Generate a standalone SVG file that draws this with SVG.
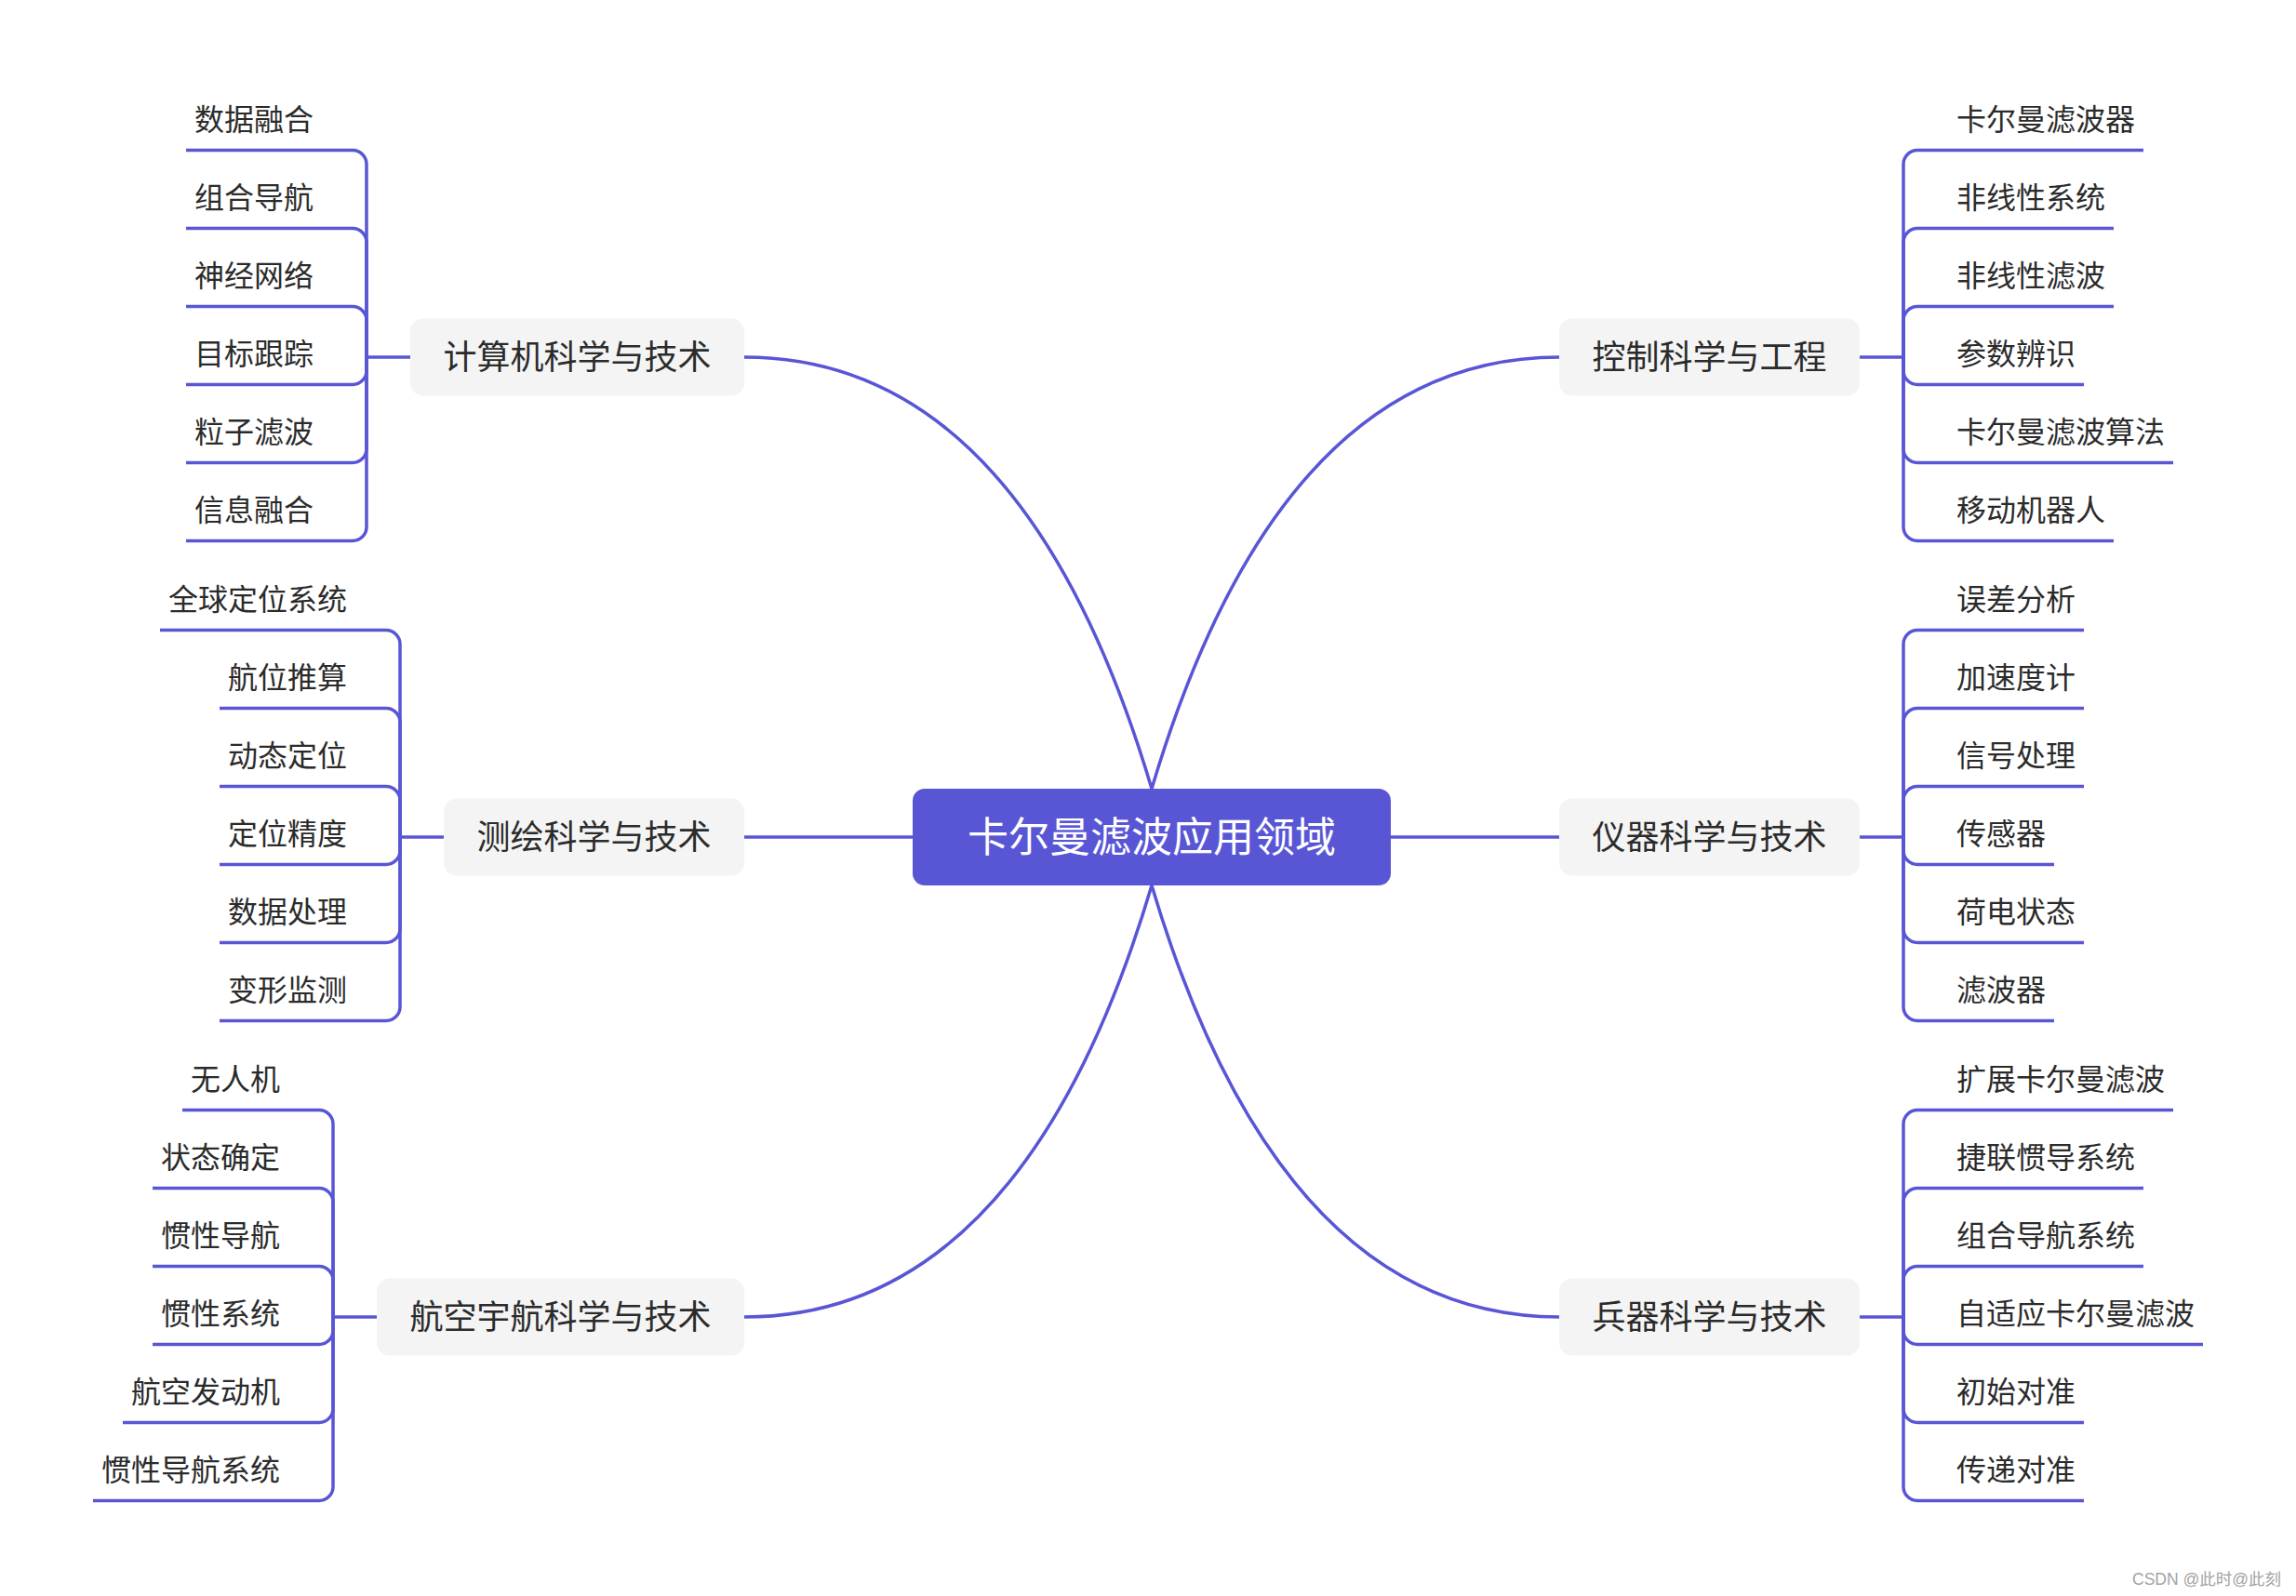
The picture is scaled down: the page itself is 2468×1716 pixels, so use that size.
<svg xmlns="http://www.w3.org/2000/svg" width="2468" height="1716" viewBox="0 0 2468 1716">
<style>
.ln{fill:none;stroke:#5956d6;stroke-width:3.5;stroke-linecap:butt}
.bn{fill:#f4f4f4}
.bt{font-family:"Noto Sans CJK SC",sans-serif;font-size:36px;fill:#2b2b2b;text-anchor:middle}
.lf{font-family:"Noto Sans CJK SC",sans-serif;font-size:32px;fill:#2b2b2b}
.l{text-anchor:end}
.r{text-anchor:start}
.ct{font-family:"Noto Sans CJK SC",sans-serif;font-size:44px;fill:#ffffff;text-anchor:middle}
.wm{font-family:"Liberation Sans","Noto Sans CJK SC",sans-serif;font-size:17.5px;fill:#a3a3a3}
</style>
<rect width="2468" height="1716" fill="#ffffff"/>
<g id="connectors">
<path class="ln" d="M800 384 Q1100 384 1238 848"/>
<path class="ln" d="M1676 384 Q1376 384 1238 848"/>
<path class="ln" d="M800 1416 Q1100 1416 1238 952"/>
<path class="ln" d="M1676 1416 Q1376 1416 1238 952"/>
<path class="ln" d="M800 900 H981"/>
<path class="ln" d="M1495 900 H1676"/>
<!-- left top -->
<path class="ln" d="M441 384 H394"/>
<path class="ln" d="M394 384 V176.5 A15 15 0 0 0 379 161.5 H200"/>
<path class="ln" d="M394 384 V260.5 A15 15 0 0 0 379 245.5 H200"/>
<path class="ln" d="M394 384 V344.5 A15 15 0 0 0 379 329.5 H200"/>
<path class="ln" d="M394 384 V398.5 A15 15 0 0 1 379 413.5 H200"/>
<path class="ln" d="M394 384 V482.5 A15 15 0 0 1 379 497.5 H200"/>
<path class="ln" d="M394 384 V566.5 A15 15 0 0 1 379 581.5 H200"/>
<!-- right top -->
<path class="ln" d="M1999 384 H2046"/>
<path class="ln" d="M2046 384 V176.5 A15 15 0 0 1 2061 161.5 H2304"/>
<path class="ln" d="M2046 384 V260.5 A15 15 0 0 1 2061 245.5 H2272"/>
<path class="ln" d="M2046 384 V344.5 A15 15 0 0 1 2061 329.5 H2272"/>
<path class="ln" d="M2046 384 V398.5 A15 15 0 0 0 2061 413.5 H2240"/>
<path class="ln" d="M2046 384 V482.5 A15 15 0 0 0 2061 497.5 H2336"/>
<path class="ln" d="M2046 384 V566.5 A15 15 0 0 0 2061 581.5 H2272"/>
<!-- left middle -->
<path class="ln" d="M477 900 H430"/>
<path class="ln" d="M430 900 V692.5 A15 15 0 0 0 415 677.5 H172"/>
<path class="ln" d="M430 900 V776.5 A15 15 0 0 0 415 761.5 H236"/>
<path class="ln" d="M430 900 V860.5 A15 15 0 0 0 415 845.5 H236"/>
<path class="ln" d="M430 900 V914.5 A15 15 0 0 1 415 929.5 H236"/>
<path class="ln" d="M430 900 V998.5 A15 15 0 0 1 415 1013.5 H236"/>
<path class="ln" d="M430 900 V1082.5 A15 15 0 0 1 415 1097.5 H236"/>
<!-- right middle -->
<path class="ln" d="M1999 900 H2046"/>
<path class="ln" d="M2046 900 V692.5 A15 15 0 0 1 2061 677.5 H2240"/>
<path class="ln" d="M2046 900 V776.5 A15 15 0 0 1 2061 761.5 H2240"/>
<path class="ln" d="M2046 900 V860.5 A15 15 0 0 1 2061 845.5 H2240"/>
<path class="ln" d="M2046 900 V914.5 A15 15 0 0 0 2061 929.5 H2208"/>
<path class="ln" d="M2046 900 V998.5 A15 15 0 0 0 2061 1013.5 H2240"/>
<path class="ln" d="M2046 900 V1082.5 A15 15 0 0 0 2061 1097.5 H2208"/>
<!-- left bottom -->
<path class="ln" d="M405 1416 H358"/>
<path class="ln" d="M358 1416 V1208.5 A15 15 0 0 0 343 1193.5 H196"/>
<path class="ln" d="M358 1416 V1292.5 A15 15 0 0 0 343 1277.5 H164"/>
<path class="ln" d="M358 1416 V1376.5 A15 15 0 0 0 343 1361.5 H164"/>
<path class="ln" d="M358 1416 V1430.5 A15 15 0 0 1 343 1445.5 H164"/>
<path class="ln" d="M358 1416 V1514.5 A15 15 0 0 1 343 1529.5 H132"/>
<path class="ln" d="M358 1416 V1598.5 A15 15 0 0 1 343 1613.5 H100"/>
<!-- right bottom -->
<path class="ln" d="M1999 1416 H2046"/>
<path class="ln" d="M2046 1416 V1208.5 A15 15 0 0 1 2061 1193.5 H2336"/>
<path class="ln" d="M2046 1416 V1292.5 A15 15 0 0 1 2061 1277.5 H2304"/>
<path class="ln" d="M2046 1416 V1376.5 A15 15 0 0 1 2061 1361.5 H2304"/>
<path class="ln" d="M2046 1416 V1430.5 A15 15 0 0 0 2061 1445.5 H2368"/>
<path class="ln" d="M2046 1416 V1514.5 A15 15 0 0 0 2061 1529.5 H2240"/>
<path class="ln" d="M2046 1416 V1598.5 A15 15 0 0 0 2061 1613.5 H2240"/>
</g>
<g id="root">
<rect x="981" y="848" width="514" height="104" rx="13" fill="#5956d6"/>
<text class="ct" x="1238" y="916">卡尔曼滤波应用领域</text>
</g>
<g id="branch-cs">
<rect class="bn" x="441" y="342.5" width="359" height="83" rx="14"/>
<text class="bt" x="620.5" y="397">计算机科学与技术</text>
</g>
<g id="branch-ctrl">
<rect class="bn" x="1676" y="342.5" width="323" height="83" rx="14"/>
<text class="bt" x="1837.5" y="397">控制科学与工程</text>
</g>
<g id="branch-survey">
<rect class="bn" x="477" y="858.5" width="323" height="83" rx="14"/>
<text class="bt" x="638.5" y="913">测绘科学与技术</text>
</g>
<g id="branch-instr">
<rect class="bn" x="1676" y="858.5" width="323" height="83" rx="14"/>
<text class="bt" x="1837.5" y="913">仪器科学与技术</text>
</g>
<g id="branch-aero">
<rect class="bn" x="405" y="1374.5" width="395" height="83" rx="14"/>
<text class="bt" x="602.5" y="1429">航空宇航科学与技术</text>
</g>
<g id="branch-weapon">
<rect class="bn" x="1676" y="1374.5" width="323" height="83" rx="14"/>
<text class="bt" x="1837.5" y="1429">兵器科学与技术</text>
</g>
<g id="leaves-cs">
<text class="lf l" x="337" y="140">数据融合</text>
<text class="lf l" x="337" y="224">组合导航</text>
<text class="lf l" x="337" y="308">神经网络</text>
<text class="lf l" x="337" y="392">目标跟踪</text>
<text class="lf l" x="337" y="476">粒子滤波</text>
<text class="lf l" x="337" y="560">信息融合</text>
</g>
<g id="leaves-ctrl">
<text class="lf r" x="2103" y="140">卡尔曼滤波器</text>
<text class="lf r" x="2103" y="224">非线性系统</text>
<text class="lf r" x="2103" y="308">非线性滤波</text>
<text class="lf r" x="2103" y="392">参数辨识</text>
<text class="lf r" x="2103" y="476">卡尔曼滤波算法</text>
<text class="lf r" x="2103" y="560">移动机器人</text>
</g>
<g id="leaves-survey">
<text class="lf l" x="373" y="656">全球定位系统</text>
<text class="lf l" x="373" y="740">航位推算</text>
<text class="lf l" x="373" y="824">动态定位</text>
<text class="lf l" x="373" y="908">定位精度</text>
<text class="lf l" x="373" y="992">数据处理</text>
<text class="lf l" x="373" y="1076">变形监测</text>
</g>
<g id="leaves-instr">
<text class="lf r" x="2103" y="656">误差分析</text>
<text class="lf r" x="2103" y="740">加速度计</text>
<text class="lf r" x="2103" y="824">信号处理</text>
<text class="lf r" x="2103" y="908">传感器</text>
<text class="lf r" x="2103" y="992">荷电状态</text>
<text class="lf r" x="2103" y="1076">滤波器</text>
</g>
<g id="leaves-aero">
<text class="lf l" x="301" y="1172">无人机</text>
<text class="lf l" x="301" y="1256">状态确定</text>
<text class="lf l" x="301" y="1340">惯性导航</text>
<text class="lf l" x="301" y="1424">惯性系统</text>
<text class="lf l" x="301" y="1508">航空发动机</text>
<text class="lf l" x="301" y="1592">惯性导航系统</text>
</g>
<g id="leaves-weapon">
<text class="lf r" x="2103" y="1172">扩展卡尔曼滤波</text>
<text class="lf r" x="2103" y="1256">捷联惯导系统</text>
<text class="lf r" x="2103" y="1340">组合导航系统</text>
<text class="lf r" x="2103" y="1424">自适应卡尔曼滤波</text>
<text class="lf r" x="2103" y="1508">初始对准</text>
<text class="lf r" x="2103" y="1592">传递对准</text>
</g>
<text class="wm" x="2292" y="1704">CSDN @此时@此刻</text>
</svg>
